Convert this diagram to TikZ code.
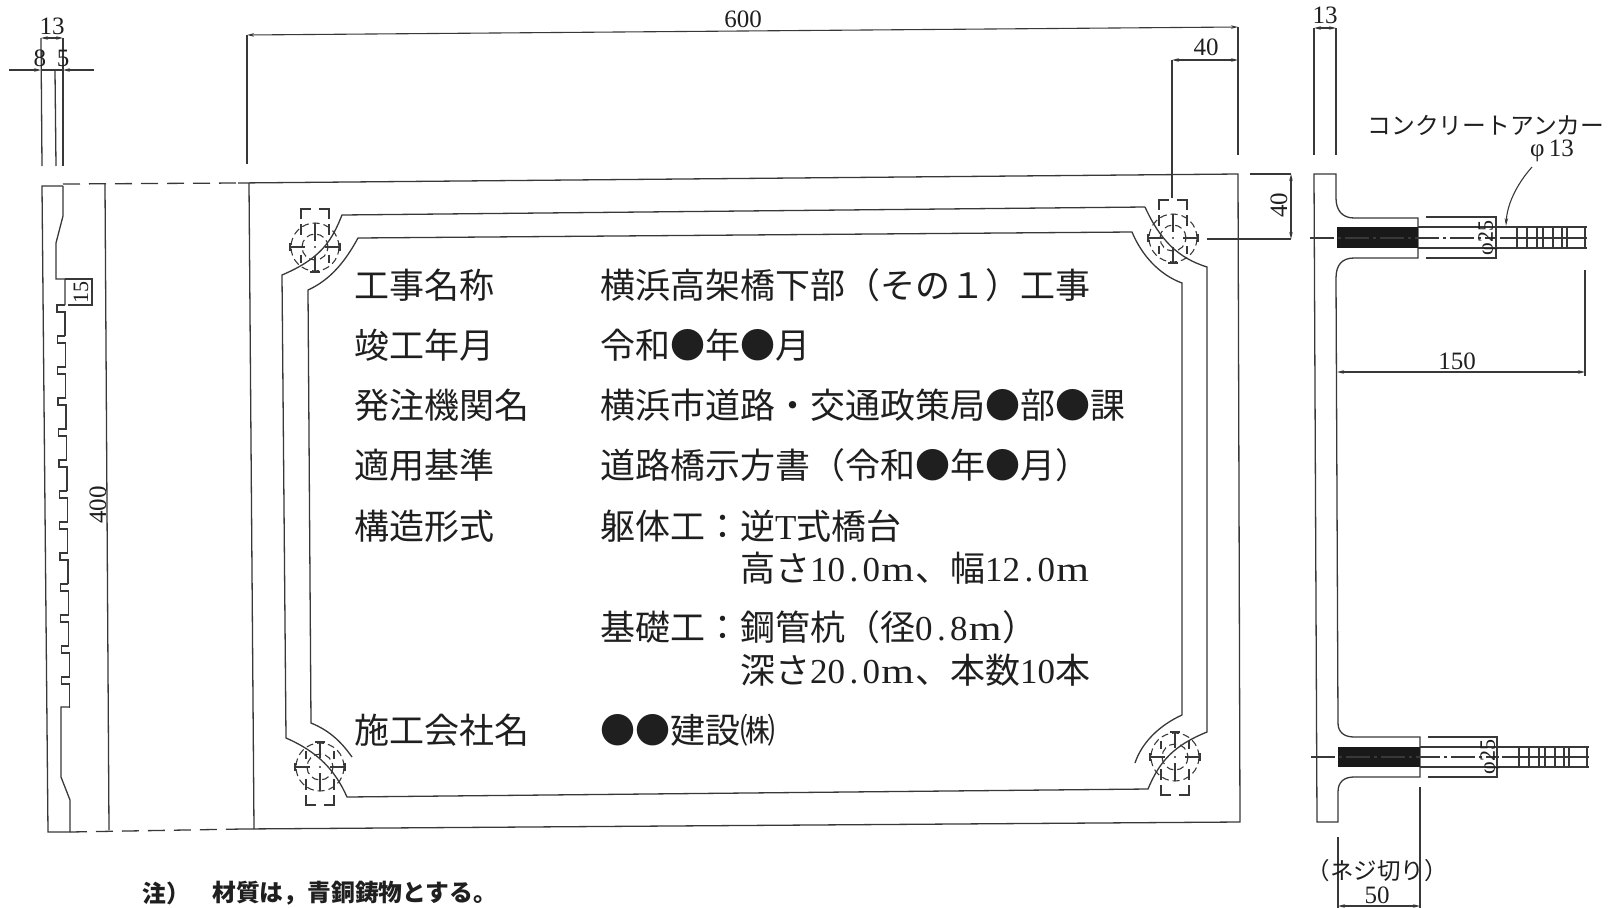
\documentclass[tikz,border=0pt]{standalone}
\usepackage{fontspec}
\usetikzlibrary{arrows.meta}
\setmainfont{Liberation Serif}
\newfontfamily\cjk{Noto Sans CJK JP}
\newcommand\hn[1]{\makebox[0.5em][c]{\rmfamily #1}}
\newcommand\hm{\makebox[1em][c]{\rmfamily\scalebox{1.2}[1]{m}}}
\newcommand\lat[1]{{\rmfamily #1}}
\definecolor{ink}{gray}{0.22}
\definecolor{txt}{gray}{0.12}
\tikzset{
  ln/.style={draw=ink,line width=1.3pt},
  dimln/.style={draw=ink,line width=1.1pt},
  dimar/.style={dimln,{Stealth[length=7pt,width=3.5pt]}-{Stealth[length=7pt,width=3.5pt]}},
  hid/.style={draw=ink,line width=1.3pt,dash pattern=on 17pt off 9pt},
  boltd/.style={draw=ink,line width=1.1pt,dash pattern=on 7pt off 4pt},
  bolts/.style={draw=ink,line width=1.1pt},
  ctr/.style={draw=ink,line width=1.1pt,dash pattern=on 24pt off 4pt on 3pt off 4pt},
  rowt/.style={anchor=west,inner sep=0pt,font=\cjk\fontsize{35}{35}\selectfont,text=txt,text height=30pt,text depth=5pt},
  dimt/.style={inner sep=0pt,text=txt,font=\fontsize{25}{25}\selectfont},
  dimts/.style={inner sep=0pt,text=txt,font=\fontsize{22}{22}\selectfont},
  notet/.style={inner sep=0pt,anchor=west,text=txt,font=\cjk\bfseries\fontsize{23.8}{24}\selectfont},
}
\newcommand\bolt[3]{%
  \begin{scope}[shift={(#1,#2)},yscale=#3]
    \draw[boltd] (0,0) circle[radius=24];
    \draw[boltd] (0,0) circle[radius=13];
    \draw[bolts] (-25,0) -- (-10,0) (10,0) -- (25,0) (-25,-4) -- (-25,4) (25,-4) -- (25,4);
    \draw[bolts] (0,-25) -- (0,-9) (0,6) -- (0,24);
    \draw[bolts] (-5,-25) -- (5,-25);
    \fill[ink] (0,0) circle[radius=1.2];
    \draw[bolts] (-14,28) -- (-14,38) -- (-4,38) (4,38) -- (14,38) -- (14,28);
    \draw[bolts] (-14,12) -- (-14,23) (14,12) -- (14,23);
    \draw[bolts] (-14,-8) -- (-14,-16) (14,-8) -- (14,-16);
  \end{scope}}
\begin{document}
\begin{tikzpicture}[x=1pt,y=-1pt]
\useasboundingbox (0,0) rectangle (1618,908);
% --- left side view
\draw[ln] (41,38) -- (42,166);
\draw[ln] (55,70) -- (56,166);
\draw[ln] (63,38) -- (63,166);
\draw[dimar] (41,38) -- (63,38);
\draw[dimln,-{Stealth[length=7pt,width=3.5pt]}] (9,70) -- (41,70);
\draw[dimln,-{Stealth[length=7pt,width=3.5pt]}] (94,70) -- (63,70);
\draw[dimln] (41,70) -- (63,70);
\node[dimt] (d13a) at (52,26) {13};
\node[dimt] (d8) at (40,58) {8};
\node[dimt] (d5) at (63,58) {5};
\draw[ln] (63,186) -- (42,186) -- (48,832) -- (70,832) -- (70,800) -- (61,777) -- (61,707) -- (70,707);
\draw[ln] (63,186) -- (63,216) -- (56,243) -- (56,279) -- (65,279) -- (65,305);
\foreach \i in {0,...,12} {
  \pgfmathsetmacro\yy{305+31*\i}
  \pgfmathsetmacro\xx{65+\i*0.38}
  \draw[ln] (\xx,\yy) -- (\xx-8,\yy) -- (\xx-8,\yy+7) -- (\xx,\yy+7) -- (\xx,\yy+31);
}
\draw[dimln] (65,279) -- (92,279) -- (92,305) -- (68,305);
\node[dimts,rotate=90] (d15) at (81,292) {15};
\node[dimt,rotate=90] (d400) at (98,505) {400};
\draw[ln] (105,184) -- (109,830);
\draw[hid] (63,184) -- (238,183);
\draw[hid] (70,832) -- (243,829);
% --- plate
\draw[ln] (238,183) -- (1238,174) -- (1240,822) -- (243,829);
\draw[ln] (249,183) -- (254,829);
% outer rim
\draw[ln] (1145,207) -- (342,215) .. controls (332,240) and (322,258) .. (282,275) -- (286,738)
  .. controls (318,752) and (335,770) .. (347,797) -- (1148,789)
  .. controls (1160,760) and (1175,745) .. (1207,732) -- (1207,267)
  .. controls (1178,258) and (1160,240) .. (1145,207);
% inner rim
\draw[ln] (352,757) .. controls (340,740) and (328,730) .. (311,723) -- (308,290)
  .. controls (330,280) and (345,262) .. (358,238) -- (1132,232)
  .. controls (1142,256) and (1160,275) .. (1182,283) -- (1182,715)
  .. controls (1160,725) and (1142,742) .. (1135,763);
\bolt{315}{247}{-1}
\bolt{320}{767}{1}
\bolt{1175}{757}{1}
\bolt{1173}{238}{-1}
% dims on plate
\draw[ln] (247,35) -- (247,164);
\draw[ln] (1238,27) -- (1238,155);
\draw[dimar] (247,35) -- (1238,27);
\node[dimt] (d600) at (743,19) {600};
\draw[ln] (1172,60) -- (1172,198);
\draw[dimar] (1172,60) -- (1238,60);
\node[dimt] (d40a) at (1206,47) {40};
\draw[dimln] (1250,174) -- (1291,174);
\draw[dimln] (1207,239) -- (1291,239);
\draw[dimar] (1291,174) -- (1291,239);
\node[dimt,rotate=90] (d40b) at (1279,205) {40};
% --- right section
\draw[ln] (1314,28) -- (1314,155);
\draw[ln] (1336,28) -- (1336,155);
\draw[dimar] (1314,28) -- (1336,28);
\node[dimt] (d13b) at (1325,15) {13};
\draw[ln] (1314,174) -- (1336,174) -- (1336,198) .. controls (1336,210) and (1342,218) .. (1354,218) -- (1418,218) -- (1418,258) -- (1354,258)
  .. controls (1342,258) and (1336,265) .. (1336,278) -- (1338,723)
  .. controls (1338,732) and (1344,737) .. (1354,737) -- (1420,737) -- (1420,777) -- (1354,777)
  .. controls (1344,777) and (1338,782) .. (1338,792) -- (1338,822) -- (1317,822) -- cycle;
\fill[black!90] (1337,227) rectangle (1418,248);
\fill[black!90] (1338,747) rectangle (1420,767);
% upper anchor
\draw[ln] (1426,217) -- (1496,217) -- (1496,258) -- (1426,258);
\draw[ln] (1418,227) -- (1587,227) (1418,248) -- (1587,248);
\draw[ln] (1517,227) -- (1517,248) (1527,227) -- (1527,248) (1537,227) -- (1537,248) (1543,227) -- (1543,248) (1553,227) -- (1553,248) (1562,227) -- (1562,248) (1567,227) -- (1567,248) (1585,227) -- (1585,248);
\draw[ink,line width=2pt] (1500,238) -- (1587,238);
\draw[ctr] (1310,238) -- (1497,238);
\node[dimts,rotate=90] (phia) at (1488,238) {φ25};
% lower anchor
\draw[ln] (1428,737) -- (1497,737) -- (1497,777) -- (1428,777);
\draw[ln] (1420,747) -- (1589,747) (1420,767) -- (1589,767);
\draw[ln] (1519,747) -- (1519,767) (1529,747) -- (1529,767) (1539,747) -- (1539,767) (1545,747) -- (1545,767) (1555,747) -- (1555,767) (1564,747) -- (1564,767) (1569,747) -- (1569,767) (1587,747) -- (1587,767);
\draw[ink,line width=2pt] (1502,757) -- (1589,757);
\draw[ctr] (1311,757) -- (1499,757);
\node[dimts,rotate=90] (phib) at (1490,757) {φ25};
% 150 dim
\draw[ln] (1585,270) -- (1585,376);
\draw[dimar] (1337,372) -- (1585,372);
\node[dimt] (d150) at (1457,361) {150};
% 50 dim
\draw[ln] (1338,837) -- (1338,908);
\draw[ln] (1420,787) -- (1420,908);
\draw[dimar] (1338,906) -- (1420,906);
\node[dimt] (d50) at (1377,895) {50};
\node[inner sep=0pt,text=txt,font=\cjk\fontsize{23.5}{24}\selectfont] (neji) at (1377,871) {（ネジ切り）};
% anchor label
\node[inner sep=0pt,text=txt,font=\cjk\fontsize{23.8}{24}\selectfont] (anc) at (1486,125) {コンクリートアンカー};
\node[dimt] (phi13) at (1552,151) {φ\,13};
\coordinate (lead) at (1532,167);
\draw[dimln,-{Stealth[length=8pt,width=3.5pt]}] (lead) .. controls (1516,185) and (1507,205) .. (1506,226);
% --- title text
\node[rowt] (l1) at (354,286) {工事名称};
\node[rowt] (v1) at (600,286) {横浜高架橋下部（その１）工事};
\node[rowt] (l2) at (354,346) {竣工年月};
\node[rowt] (v2) at (600,346) {令和●年●月};
\node[rowt] (l3) at (354,406) {発注機関名};
\node[rowt] (v3) at (600,406) {横浜市道路・交通政策局●部●課};
\node[rowt] (l4) at (354,466) {適用基準};
\node[rowt] (v4) at (600,466) {道路橋示方書（令和●年●月）};
\node[rowt] (l5) at (354,527) {構造形式};
\node[rowt] (v5) at (600,527) {躯体工：};
\node[rowt] (w5) at (740,527) {逆\lat{T}式橋台};
\node[rowt] (w6) at (740,569) {高さ\hn{1}\hn{0}\hn{.}\hn{0}\hm、幅\hn{1}\hn{2}\hn{.}\hn{0}\hm};
\node[rowt] (v7) at (600,628) {基礎工：};
\node[rowt] (w7) at (740,628) {鋼管杭（径\hn{0}\hn{.}\hn{8}\hm）};
\node[rowt] (w8) at (740,671) {深さ\hn{2}\hn{0}\hn{.}\hn{0}\hm、本数\hn{1}\hn{0}本};
\node[rowt] (l9) at (354,731) {施工会社名};
\node[rowt] (v9) at (600,731) {●●建設㈱};
% --- note
\node[notet] (n1) at (142,893) {注）};
\node[notet] (n2) at (212,893) {材質は，青銅鋳物とする。};
\end{tikzpicture}
\end{document}
